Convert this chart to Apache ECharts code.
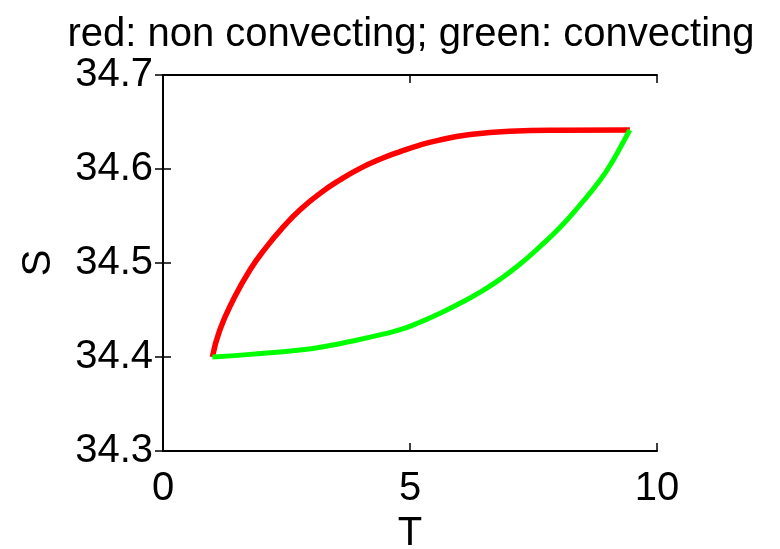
<!DOCTYPE html>
<html>
<head>
<meta charset="utf-8">
<script src="https://cdn.jsdelivr.net/npm/echarts@6/dist/echarts.min.js"></script>
<style>
  html, body { margin: 0; padding: 0; background: #fff; }
  #chart { width: 780px; height: 549px; }
</style>
</head>
<body>
<div id="chart"></div>
<script>
// red: non convecting
const redT = [1.0, 1.15, 1.42, 1.76, 2.10, 2.44, 2.77, 3.18, 3.58, 3.99, 4.39, 4.80, 5.20, 5.57, 6.15, 7.02, 8.00, 9.45];
const redS = [34.400, 34.4287, 34.4606, 34.4926, 34.5174, 34.5386, 34.5564, 34.5741, 34.5883, 34.6007, 34.6103, 34.6185, 34.6255, 34.6305, 34.6362, 34.6402, 34.6413, 34.6415];
// green: convecting
const greenT = [1.0, 1.76, 2.77, 3.38, 3.79, 4.39, 4.80, 5.20, 5.61, 6.01, 6.42, 6.82, 7.23, 7.63, 8.04, 8.44, 8.85, 9.12, 9.32, 9.45];
const greenS = [34.400, 34.4028, 34.4074, 34.4122, 34.4165, 34.4235, 34.4290, 34.437, 34.4465, 34.4571, 34.4690, 34.4826, 34.4989, 34.5174, 34.538, 34.5617, 34.5883, 34.610, 34.629, 34.6415];

const xTicks = [0, 5, 10];
const yTicks = [34.3, 34.4, 34.5, 34.6, 34.7];

const font = "'Liberation Sans', Arial, sans-serif";

let myChart = echarts.init(document.getElementById("chart"));

let boxLine = { show: true, lineStyle: { color: "#000", width: 2 } };
let tickIn = { show: true, inside: true, length: 8, lineStyle: { color: "#000", width: 1.5 } };

let options = {
  backgroundColor: "#fff",
  animation: false,
  title: {
    text: "red: non convecting; green: convecting",
    left: 406,
    top: 10,
    textAlign: "center",
    textStyle: { fontFamily: font, fontSize: 40, fontWeight: "normal", color: "#000" },
  },
  grid: { left: 163, right: 123, top: 75, bottom: 98, containLabel: false, outerBoundsMode: "none" },
  xAxis: [
    {
      type: "value",
      min: 0,
      max: 10,
      interval: 5,
      name: "T",
      nameLocation: "middle",
      nameGap: 57,
      nameTextStyle: { fontFamily: font, fontSize: 40, color: "#000" },
      axisLine: boxLine,
      axisTick: tickIn,
      splitLine: { show: false },
      axisLabel: {
        fontFamily: font,
        fontSize: 40,
        color: "#000",
        margin: 18,
        formatter: (v) => (xTicks.includes(v) ? String(v) : ""),
      },
    },
    {
      type: "value",
      position: "top",
      min: 0,
      max: 10,
      interval: 5,
      axisLine: boxLine,
      axisTick: tickIn,
      axisLabel: { show: false },
      splitLine: { show: false },
    },
  ],
  yAxis: [
    {
      type: "value",
      min: 34.3,
      max: 34.7,
      interval: 0.1,
      name: "S",
      nameLocation: "middle",
      nameGap: 104,
      nameTextStyle: { fontFamily: font, fontSize: 40, color: "#000" },
      axisLine: boxLine,
      axisTick: tickIn,
      splitLine: { show: false },
      axisLabel: {
        fontFamily: font,
        fontSize: 40,
        color: "#000",
        margin: 10,
        formatter: (v) => (yTicks.some((t) => Math.abs(t - v) < 1e-6) ? v.toFixed(1) : ""),
      },
    },
    {
      type: "value",
      position: "right",
      min: 34.3,
      max: 34.7,
      interval: 0.1,
      axisLine: boxLine,
      axisTick: tickIn,
      axisLabel: { show: false },
      splitLine: { show: false },
    },
  ],
  series: [
    {
      name: "non convecting",
      type: "line",
      smooth: 0.5,
      showSymbol: false,
      lineStyle: { color: "#ff0000", width: 5.5 },
      data: redT.map((t, i) => [t, redS[i]]),
    },
    {
      name: "convecting",
      type: "line",
      smooth: 0.5,
      showSymbol: false,
      lineStyle: { color: "#00ff00", width: 5 },
      data: greenT.map((t, i) => [t, greenS[i]]),
    },
  ],
};
myChart.setOption(options);
</script>
</body>
</html>
